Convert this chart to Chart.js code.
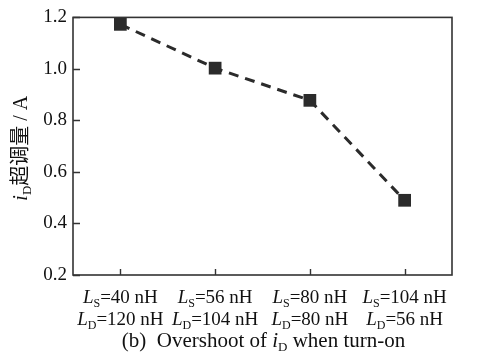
<!DOCTYPE html>
<html>
<head>
<meta charset="utf-8">
<script src="https://cdn.jsdelivr.net/npm/chart.js@4.4.1/dist/chart.umd.min.js"></script>
<style>
html,body{margin:0;padding:0;background:#fff;}
canvas{display:block;}
</style>
</head>
<body>
<canvas id="c" width="489" height="364"></canvas>
<script>
// Data
const lsValues = ['40', '56', '80', '104'];
const ldValues = ['120', '104', '80', '56'];
const categories = ['Ls=40 nH / Ld=120 nH', 'Ls=56 nH / Ld=104 nH', 'Ls=80 nH / Ld=80 nH', 'Ls=104 nH / Ld=56 nH'];
const overshoot = [1.173, 1.003, 0.878, 0.490];
const yTicks = [0.2, 0.4, 0.6, 0.8, 1.0, 1.2];

const SERIF = '"Liberation Serif", "Times New Roman", serif';
const CJK = '"Noto Sans CJK SC", sans-serif';
const INK = '#2b2b2b';

function drawRich(ctx, segs, cx, baseY) {
  let w = 0;
  segs.forEach(s => { ctx.font = s.font; s.w = ctx.measureText(s.t).width; w += s.w; });
  let x = cx - w / 2;
  ctx.textAlign = 'left';
  ctx.textBaseline = 'alphabetic';
  segs.forEach(s => {
    ctx.font = s.font;
    ctx.fillText(s.t, x, baseY + (s.dy || 0));
    x += s.w;
  });
}

const decor = {
  id: 'decor',
  afterDraw(chart) {
    const ctx = chart.ctx;
    const a = chart.chartArea;
    const xs = chart.scales.x, ys = chart.scales.y;
    ctx.save();
    // frame
    ctx.strokeStyle = '#333';
    ctx.lineWidth = 1.6;
    ctx.strokeRect(a.left, a.top, a.right - a.left, a.bottom - a.top);
    // y tick marks (inward)
    ctx.lineWidth = 1.4;
    ctx.beginPath();
    yTicks.forEach(v => {
      const y = Math.round(ys.getPixelForValue(v)) + 0.5;
      ctx.moveTo(a.left, y); ctx.lineTo(a.left + 7, y);
    });
    // x tick marks (inward)
    categories.forEach((c, i) => {
      const x = Math.round(xs.getPixelForValue(i)) + 0.5;
      ctx.moveTo(x, a.bottom); ctx.lineTo(x, a.bottom - 6);
    });
    ctx.stroke();

    // x labels
    ctx.fillStyle = '#111';
    const big = '19px ' + SERIF, ital = 'italic 19px ' + SERIF, sub = '12px ' + SERIF;
    categories.forEach((c, i) => {
      const x = xs.getPixelForValue(i);
      drawRich(ctx, [
        {t: 'L', font: ital},
        {t: 'S', font: sub, dy: 4},
        {t: '=' + lsValues[i] + ' nH', font: big}
      ], x, a.bottom + 28);
      drawRich(ctx, [
        {t: 'L', font: ital},
        {t: 'D', font: sub, dy: 4},
        {t: '=' + ldValues[i] + ' nH', font: big}
      ], x, a.bottom + 50);
    });

    // caption
    drawRich(ctx, [
      {t: '(b)  Overshoot of ', font: '21px ' + SERIF},
      {t: 'i', font: 'italic 21px ' + SERIF},
      {t: 'D', font: '13px ' + SERIF, dy: 4},
      {t: ' when turn-on', font: '21px ' + SERIF}
    ], (a.left + a.right) / 2 + 1, a.bottom + 72);

    // y title
    ctx.save();
    ctx.translate(27, (a.top + a.bottom) / 2 + 2);
    ctx.rotate(-Math.PI / 2);
    drawRich(ctx, [
      {t: 'i', font: 'italic 20px ' + SERIF},
      {t: 'D', font: '13px ' + SERIF, dy: 4},
      {t: '超调量', font: '20px ' + CJK},
      {t: ' / A', font: '20px ' + SERIF}
    ], 0, 0);
    ctx.restore();
    ctx.restore();
  }
};

new Chart(document.getElementById('c'), {
  type: 'line',
  data: {
    labels: categories,
    datasets: [{
      data: overshoot,
      borderColor: INK,
      borderWidth: 3,
      borderDash: [10, 7],
      pointStyle: 'rect',
      pointRadius: 9,
      pointHoverRadius: 9,
      pointBackgroundColor: INK,
      pointBorderWidth: 0,
      tension: 0,
      fill: false,
      clip: false
    }]
  },
  options: {
    responsive: false,
    animation: false,
    events: [],
    layout: { padding: { left: 0, top: 15, right: 37, bottom: 89 } },
    plugins: { legend: { display: false }, tooltip: { enabled: false } },
    scales: {
      x: {
        type: 'category',
        offset: true,
        display: false
      },
      y: {
        min: 0.2,
        max: 1.2,
        afterFit(scale) { scale.width = 73; },
        afterBuildTicks(scale) { scale.ticks = yTicks.map(v => ({value: v})); },
        grid: { display: false, drawTicks: false },
        border: { display: false },
        ticks: {
          padding: 6,
          color: '#111',
          font: { family: SERIF, size: 19 },
          callback: v => Number(v).toFixed(1)
        }
      }
    }
  },
  plugins: [decor]
});
</script>
</body>
</html>
